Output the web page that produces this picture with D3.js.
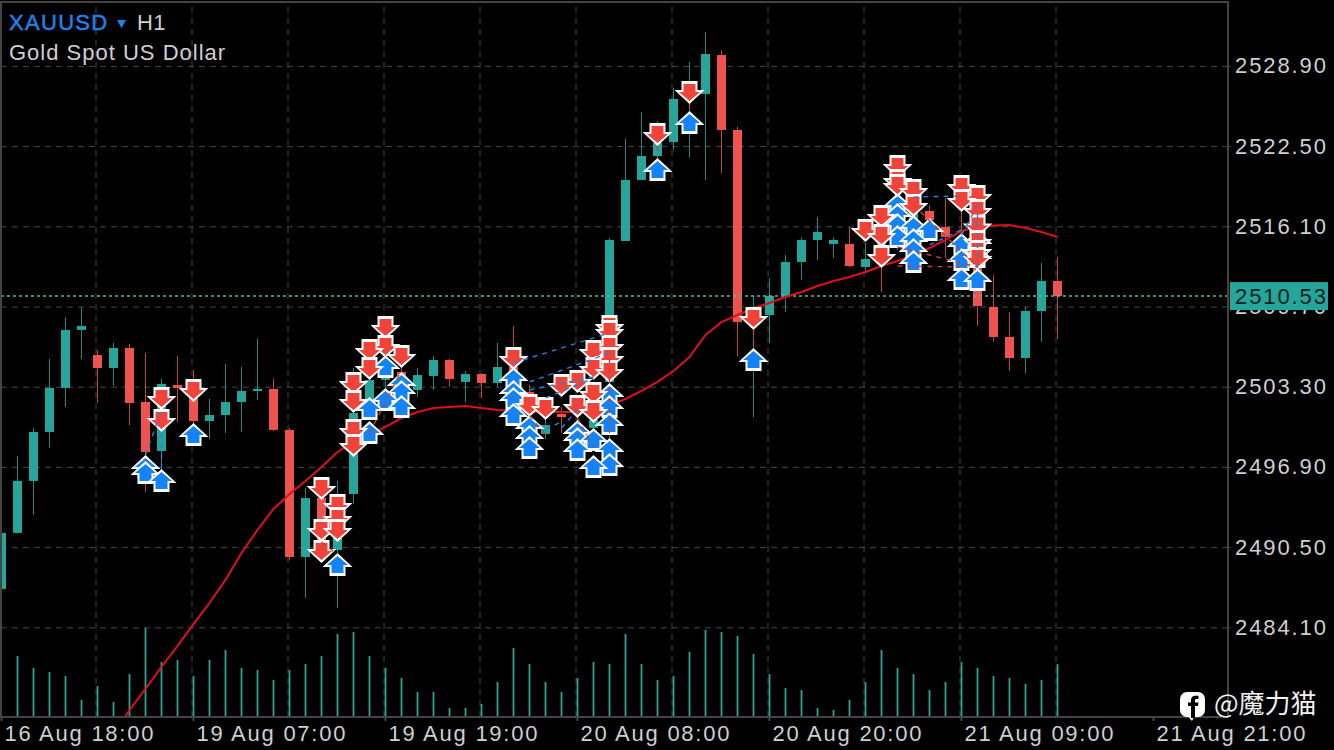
<!DOCTYPE html>
<html><head><meta charset="utf-8">
<script src="https://cdn.jsdelivr.net/npm/d3@7/dist/d3.min.js"></script>
<style>
html,body{margin:0;padding:0;background:#000;overflow:hidden}
svg{display:block}
text{font-family:"Liberation Sans",Arial,sans-serif}
</style></head><body>
<svg id="c" width="1334" height="750"></svg>
<script>
const symbol="XAUUSD", timeframe="H1", description="Gold Spot US Dollar", watermark="@魔力猫";
const bidPrice=2510.53;
const priceTicks=[2528.90,2522.50,2516.10,2509.70,2503.30,2496.90,2490.50,2484.10];
const timeLabels=["16 Aug 18:00","19 Aug 07:00","19 Aug 19:00","20 Aug 08:00","20 Aug 20:00","21 Aug 09:00","21 Aug 21:00"];
// [open, high, low, close] by bar
const ohlc=[
[2487.16,2491.63,2487.16,2491.63],[2491.63,2497.77,2491.63,2495.78],[2495.78,2500.01,2493.06,2499.69],[2499.69,2505.51,2498.41,2503.20],
[2503.20,2508.86,2501.68,2507.83],[2507.83,2509.66,2505.51,2508.15],[2505.83,2506.23,2502.00,2504.79],[2504.79,2506.79,2503.36,2506.39],
[2506.39,2506.71,2500.24,2502.00],[2502.08,2505.99,2494.90,2498.09],[2498.17,2503.92,2496.41,2503.52],[2503.44,2505.75,2500.48,2503.20],
[2503.20,2504.63,2499.85,2500.56],[2500.56,2502.32,2499.13,2501.04],[2501.04,2505.11,2499.61,2502.08],[2502.08,2504.87,2499.69,2502.96],
[2502.96,2507.11,2502.24,2503.12],[2503.12,2503.92,2499.77,2499.85],[2499.85,2500.01,2489.47,2489.71],[2489.71,2495.22,2486.44,2494.42],
[2494.42,2495.06,2489.87,2490.27],[2490.27,2495.78,2485.64,2494.74],[2494.74,2504.79,2493.94,2501.20],[2501.20,2504.47,2500.80,2503.84],
[2503.84,2505.59,2503.04,2504.39],[2504.47,2505.43,2502.64,2504.16],[2503.04,2504.79,2502.48,2504.23],[2504.16,2505.75,2503.04,2505.43],
[2505.43,2505.51,2503.28,2503.92],[2503.68,2504.55,2502.08,2504.31],[2504.31,2504.39,2502.40,2503.60],[2503.60,2506.79,2503.28,2504.87],
[2504.87,2508.15,2501.28,2502.88],[2502.88,2503.44,2500.24,2501.44],[2499.53,2501.44,2499.13,2500.24],[2501.12,2501.68,2499.61,2500.88],
[2501.28,2502.64,2499.85,2501.84],[2500.01,2502.24,2499.05,2500.64],[2503.68,2515.17,2499.05,2515.01],[2514.93,2523.07,2514.93,2519.80],
[2519.80,2525.22,2519.80,2521.71],[2521.71,2524.50,2520.19,2522.75],[2522.83,2527.14,2522.19,2526.26],[2526.26,2529.21,2521.63,2526.66],
[2526.66,2531.61,2519.80,2529.85],[2529.77,2530.17,2520.35,2523.79],[2523.79,2524.03,2505.75,2508.46],[2508.46,2510.54,2500.88,2509.42],
[2509.02,2511.98,2506.79,2510.54],[2510.54,2513.81,2509.26,2513.25],[2513.25,2515.25,2511.82,2515.01],[2515.01,2516.84,2513.41,2515.65],
[2514.69,2515.25,2513.57,2515.01],[2514.69,2516.05,2512.85,2512.93],[2512.85,2514.77,2512.45,2513.49],[2515.25,2516.21,2510.86,2513.57],
[2515.33,2518.20,2514.21,2516.21],[2516.21,2518.60,2515.01,2517.40],[2517.32,2517.80,2515.41,2516.60],[2516.05,2518.36,2513.57,2515.25],
[2515.25,2517.40,2511.42,2513.01],[2513.01,2515.01,2508.15,2509.74],[2509.66,2512.21,2506.87,2507.27],[2507.27,2509.26,2504.55,2505.59],
[2505.59,2509.66,2504.39,2509.34],[2509.34,2513.17,2506.87,2511.74],[2511.74,2513.65,2507.11,2510.53]];
// tick volume, from bar 1
const volumeValues=[61,49,45,41,17,31,15,43,89,55,57,41,57,67,49,47,37,47,53,61,83,85,61,49,39,25,25,9,9,13,35,69,53,35,25,39,55,53,83,53,37,41,65,87,85,81,63,43,29,27,9,7,17,35,67,49,43,27,35,55,49,41,39,33,37,53];
// moving average, from bar 7
const maValues=[2475.51,2477.50,2479.18,2480.93,2482.61,2484.36,2486.04,2487.88,2490.03,2491.87,2493.54,2494.74,2495.78,2496.89,2498.09,2498.89,2499.45,2500.09,2500.80,2501.28,2501.60,2501.68,2501.76,2501.60,2501.44,2501.36,2501.28,2501.28,2501.28,2501.28,2501.44,2501.84,2502.32,2502.96,2503.68,2504.55,2505.67,2507.43,2508.46,2509.02,2509.58,2509.98,2510.46,2510.86,2511.34,2511.74,2512.06,2512.45,2512.93,2513.33,2513.81,2514.37,2515.01,2515.73,2516.05,2516.17,2516.20,2515.97,2515.65,2515.25];
// trade markers [bar, price]
const sellMarks=[[10,2501.44],[10,2499.69],[12,2502.08],[20,2494.26],[20,2490.91],[20,2489.23],[21,2492.90],[21,2491.87],[21,2490.91],
[22,2502.64],[22,2501.20],[22,2498.89],[22,2497.69],[23,2505.27],[23,2503.84],[24,2507.11],[24,2505.59],[25,2504.79],[32,2504.63],[33,2500.88],[34,2500.64],[35,2502.48],
[36,2502.80],[36,2500.80],[37,2505.19],[37,2503.84],[37,2501.84],[37,2500.40],[38,2507.19],[38,2506.79],[38,2505.59],[38,2504.63],[38,2503.60],
[41,2522.51],[43,2525.86],[47,2507.83],[54,2514.85],[55,2515.97],[55,2514.45],[55,2512.77],[56,2519.96],[56,2518.84],[56,2518.44],[57,2518.04],[57,2516.84],
[60,2518.36],[60,2517.24],[61,2517.56],[61,2516.44],[61,2515.20],[61,2513.97],[61,2513.17],[61,2512.61]];
const buyMarks=[[9,2497.85],[9,2497.37],[10,2496.73],[12,2500.40],[21,2490.03],[23,2502.48],[23,2500.56],[24,2505.83],[24,2503.20],[25,2504.47],[25,2503.84],[25,2502.64],
[32,2504.87],[32,2503.84],[32,2503.28],[32,2502.00],[33,2501.04],[33,2500.24],[33,2499.37],[36,2500.64],[36,2500.09],[36,2499.21],[37,2500.01],[37,2497.85],
[38,2503.60],[38,2502.64],[38,2501.28],[38,2499.21],[38,2498.01],[41,2521.55],[43,2525.30],[47,2506.39],[56,2518.76],[56,2517.96],[56,2517.16],[56,2516.21],
[57,2517.00],[57,2515.97],[57,2515.17],[57,2514.21],[58,2516.76],[60,2515.57],[60,2514.37],[60,2512.85],[61,2515.81],[61,2514.61],[61,2512.77]];
// trade connectors [bar, price, bar, price]
const buyLinks=[[9,2497.85,10,2501.44],[10,2496.73,10,2499.69],[32,2505.19,38,2507.59],[33,2503.68,38,2505.99],[33,2503.04,37,2504.08],[34,2502.40,37,2504.00],[34,2499.90,35,2500.50],[35,2500.00,36,2501.50],
[57,2518.44,60,2518.52],[58,2514.61,61,2516.44],[60,2515.40,61,2517.80],[61,2512.77,61,2517.56]];
const sellLinks=[[23,2499.60,25,2504.60],[20,2490.91,21,2489.90],[38,2505.60,38,2499.50],[41,2522.51,41,2521.55],[43,2525.86,43,2525.30],[47,2507.83,47,2506.39],[56,2514.45,61,2512.85],[56,2512.93,60,2512.85],[57,2517.80,61,2512.85],[33,2501.00,34,2499.50],[36,2500.80,37,2498.50]];

const UP="#26a69a",DOWN="#ef5350",GRID="#464646",FRAME="#444",TXT="#cfcfcf";
const svg=d3.select("#c");
const L=1,R=1228,T=2,B=717;
const x=d3.scaleLinear().domain([0,1]).range([1.5,17.5]);
const y=d3.scaleLinear().domain([2484.1,2528.9]).range([627.3,65.9]);
const vY=d3.scaleLinear().domain([0,89]).range([B,628]);
svg.append("defs").append("clipPath").attr("id","plot").append("rect").attr("x",L).attr("y",T).attr("width",R-L).attr("height",B-T);

// grid
const gridBars=d3.range(6,72,6);
const gx=svg.append("g").attr("transform",`translate(-2,${B})`).call(d3.axisBottom(x).tickValues(gridBars).tickSize(-(B-T)).tickFormat(""));
gx.select(".domain").remove();
gx.selectAll("line").attr("stroke",GRID).attr("stroke-width",1).attr("stroke-dasharray","6,5");
const gy=svg.append("g").attr("transform",`translate(${R},0)`).call(d3.axisLeft(y).tickValues(priceTicks).tickSize(R-L).tickFormat(""));
gy.select(".domain").remove();
gy.selectAll("line").attr("stroke",GRID).attr("stroke-width",1).attr("stroke-dasharray","6,5");

const plot=svg.append("g").attr("clip-path","url(#plot)");
// volumes
plot.append("g").selectAll("line").data(volumeValues).join("line")
 .attr("x1",(d,i)=>x(i+1)).attr("x2",(d,i)=>x(i+1)).attr("y1",vY(0)).attr("y2",d=>vY(d))
 .attr("stroke",UP).attr("stroke-width",1.8);
// candles
const col=d=>d[3]>=d[0]?UP:DOWN;
const cg=plot.append("g");
cg.selectAll("line").data(ohlc).join("line")
 .attr("x1",(d,i)=>x(i)).attr("x2",(d,i)=>x(i)).attr("y1",d=>y(d[1])).attr("y2",d=>y(d[2])).attr("stroke",col).attr("stroke-width",1).attr("stroke-opacity",.8);
cg.selectAll("rect").data(ohlc).join("rect")
 .attr("x",(d,i)=>x(i)-4.5).attr("width",9)
 .attr("y",d=>y(Math.max(d[0],d[3]))).attr("height",d=>Math.max(1.5,Math.abs(y(d[0])-y(d[3])))).attr("fill",col);
// bid line
plot.append("line").attr("x1",L).attr("x2",R).attr("y1",y(bidPrice)).attr("y2",y(bidPrice)).attr("stroke","#63b3a4").attr("stroke-width",1.5).attr("stroke-dasharray","3,3");
// moving average
plot.append("path").datum(maValues).attr("fill","none").attr("stroke","#e0101a").attr("stroke-width",2)
 .attr("d",d3.line().x((d,i)=>x(i+7)).y(d=>y(d)));

// trade arrows: white silhouette under a coloured arrow, tip on the price
const arrowPath=(s,o)=>{const p=d3.path();
 const v=o?[[0,0],[15,-14],[8,-14],[8,-23],[-8,-23],[-8,-14],[-15,-14]]:[[0,-3],[10.5,-12],[6,-12],[6,-20],[-6,-20],[-6,-12],[-10.5,-12]];
 v.forEach((q,i)=>i?p.lineTo(q[0],q[1]*s):p.moveTo(q[0],q[1]*s));p.closePath();return p.toString();};
const marks=[...sellMarks.map(m=>({b:m[0],p:m[1],t:"s"})),...buyMarks.map(m=>({b:m[0],p:m[1],t:"b"}))]
 .sort((a,b)=>b.p-a.p);
const mg=plot.append("g").selectAll("g").data(marks).join("g").attr("transform",d=>`translate(${x(d.b)},${y(d.p)})`);
mg.append("path").attr("d",d=>arrowPath(d.t==="s"?1:-1,true)).attr("fill","#fff");
mg.append("path").attr("d",d=>arrowPath(d.t==="s"?1:-1,false)).attr("fill",d=>d.t==="s"?"#f0443a":"#1583f5");
// connectors
const links=(data,c)=>plot.append("g").selectAll("line").data(data).join("line")
 .attr("x1",d=>x(d[0])).attr("y1",d=>y(d[1])).attr("x2",d=>x(d[2])).attr("y2",d=>y(d[3]))
 .attr("stroke",c).attr("stroke-width",1.4).attr("stroke-dasharray","5,5");
links(buyLinks,"#2b7fdc");links(sellLinks,"#c0443a");

// frame
svg.append("rect").attr("x",L).attr("y",T).attr("width",R-L).attr("height",B-T).attr("fill","none").attr("stroke",FRAME).attr("stroke-width",2);

// axes
const ax=svg.append("g").attr("transform",`translate(${R},0)`).call(d3.axisRight(y).tickValues(priceTicks).tickSize(3).tickPadding(4).tickFormat(d3.format(".2f")));
ax.select(".domain").remove();
ax.selectAll("line").attr("stroke",FRAME);
ax.selectAll("text").attr("fill",TXT).attr("font-size",22).attr("letter-spacing",1.9).style("font-family",'"Liberation Sans"');
const timeBars=timeLabels.map((d,i)=>i*12);
const bx=svg.append("g").attr("transform",`translate(-0.5,${B})`).call(d3.axisBottom(x).tickValues(timeBars).tickSize(4).tickPadding(4).tickFormat((d,i)=>timeLabels[i]));
bx.select(".domain").remove();
bx.selectAll("line").attr("stroke",FRAME).attr("stroke-width",2);
bx.selectAll("text").attr("text-anchor","start").attr("x",3).attr("fill",TXT).attr("font-size",22).attr("letter-spacing",1.75).style("font-family",'"Liberation Sans"');

// bid label
svg.append("rect").attr("x",1230).attr("y",y(bidPrice)-14).attr("width",98).attr("height",28).attr("fill",UP);
svg.append("text").attr("x",1235).attr("y",y(bidPrice)).attr("dy","0.35em").attr("font-size",22).attr("letter-spacing",1.9).attr("fill","#06201e").text(d3.format(".2f")(bidPrice));

// title
svg.append("text").attr("x",9).attr("y",30).attr("font-size",22).attr("letter-spacing",1.3).attr("fill","#1f82ea").attr("stroke","#1f82ea").attr("stroke-width",.5).text(symbol);
svg.append("path").attr("d",d3.line()([[117,20],[126,20],[121.5,28]])+"Z").attr("fill","#1f82ea");
svg.append("text").attr("x",137).attr("y",30).attr("font-size",22).attr("letter-spacing",.3).attr("fill",TXT).text(timeframe);
svg.append("text").attr("x",9).attr("y",60).attr("font-size",22).attr("letter-spacing",1).attr("fill",TXT).text(description);

// watermark
const wm=svg.append("g");
wm.append("rect").attr("x",1180).attr("y",692).attr("width",25).attr("height",25).attr("rx",7).attr("fill","#fff");
wm.append("path").attr("d","M1187 715 L1195 715 L1192 721 Z").attr("fill","#fff");
wm.append("path").attr("d","M1191 718 V706 H1188 V702.5 H1191 V700.5 C1191 697 1193 695.8 1196 695.8 H1198.5 V699 H1196.8 C1195.4 699 1195 699.6 1195 700.8 V702.5 H1198.5 L1198 706 H1195 V718 Z").attr("fill","#000");
svg.append("text").attr("x",1214).attr("y",713).attr("font-size",26).attr("fill","#f2f2f2").style("font-family",'"Noto Sans CJK SC"').text(watermark);
</script></body></html>
